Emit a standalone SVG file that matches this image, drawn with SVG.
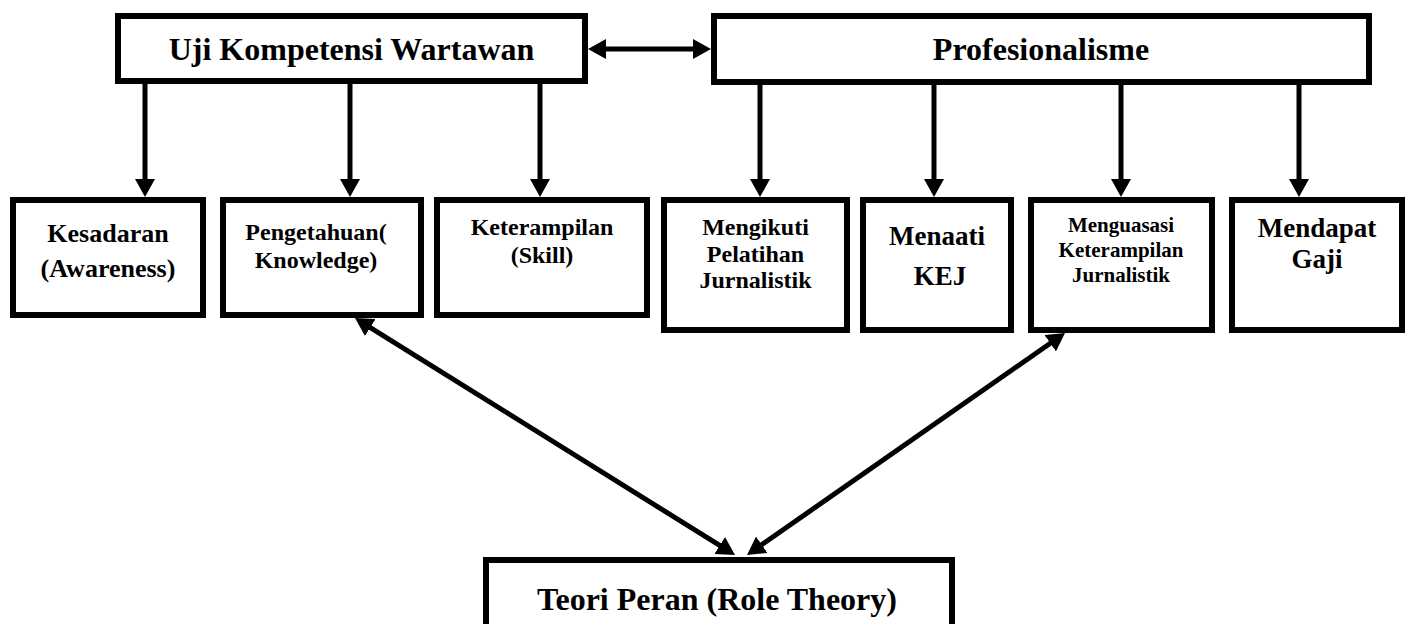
<svg xmlns="http://www.w3.org/2000/svg" width="1411" height="624" viewBox="0 0 1411 624">
<style>
.box{fill:#fff;stroke:#000;stroke-width:6}
.t{font-family:"Liberation Serif","Times New Roman",serif;font-weight:bold;fill:#000;text-anchor:middle}
.c{fill:none;stroke:#000;stroke-width:5}
</style>
<defs>
<marker id="ah" markerUnits="userSpaceOnUse" markerWidth="18" markerHeight="20" viewBox="0 0 18 20" refX="8" refY="10" orient="auto-start-reverse">
<path d="M0,0 L18,10 L0,20 z" fill="#000"/>
</marker>
</defs>
<rect width="1411" height="624" fill="#fff"/>
<g id="connectors">
<path class="c" d="M598,49 H701" marker-start="url(#ah)" marker-end="url(#ah)"/>
<path class="c" d="M145,84 V187" marker-end="url(#ah)"/>
<path class="c" d="M350,84 V187" marker-end="url(#ah)"/>
<path class="c" d="M540,84 V187" marker-end="url(#ah)"/>
<path class="c" d="M760,85 V187" marker-end="url(#ah)"/>
<path class="c" d="M934,85 V187" marker-end="url(#ah)"/>
<path class="c" d="M1121,85 V187" marker-end="url(#ah)"/>
<path class="c" d="M1299,85 V187" marker-end="url(#ah)"/>
<path class="c" d="M363.5,323.3 L726.5,549.7" marker-start="url(#ah)" marker-end="url(#ah)"/>
<path class="c" d="M755.2,549.3 L1056.8,338.7" marker-start="url(#ah)" marker-end="url(#ah)"/>
</g>
<g id="uji">
<rect class="box" x="118" y="16" width="467" height="65"/>
<text class="t" x="351.5" y="60" font-size="32">Uji Kompetensi Wartawan</text>
</g>
<g id="profesionalisme">
<rect class="box" x="714" y="16" width="655" height="66"/>
<text class="t" x="1041" y="60" font-size="32">Profesionalisme</text>
</g>
<g id="kesadaran">
<rect class="box" x="13" y="200" width="190" height="115"/>
<text class="t" x="108" y="242" font-size="26">Kesadaran</text>
<text class="t" x="108" y="277" font-size="26">(Awareness)</text>
</g>
<g id="pengetahuan">
<rect class="box" x="223" y="200" width="198" height="115"/>
<text class="t" x="316" y="240" font-size="24">Pengetahuan(</text>
<text class="t" x="316" y="268" font-size="24">Knowledge)</text>
</g>
<g id="keterampilan">
<rect class="box" x="437" y="200" width="210" height="115"/>
<text class="t" x="542" y="235" font-size="24">Keterampilan</text>
<text class="t" x="542" y="263" font-size="24">(Skill)</text>
</g>
<g id="mengikuti">
<rect class="box" x="664" y="200" width="183" height="130"/>
<text class="t" x="755.5" y="235" font-size="24">Mengikuti</text>
<text class="t" x="755.5" y="262" font-size="24">Pelatihan</text>
<text class="t" x="755.5" y="288" font-size="24">Jurnalistik</text>
</g>
<g id="menaati">
<rect class="box" x="863" y="200" width="148" height="130"/>
<text class="t" x="937" y="245" font-size="27">Menaati</text>
<text class="t" x="940" y="285" font-size="27">KEJ</text>
</g>
<g id="menguasasi">
<rect class="box" x="1031" y="200" width="181" height="130"/>
<text class="t" x="1121" y="232" font-size="21">Menguasasi</text>
<text class="t" x="1121" y="257" font-size="21">Keterampilan</text>
<text class="t" x="1121" y="282" font-size="21">Jurnalistik</text>
</g>
<g id="mendapat">
<rect class="box" x="1232" y="200" width="170" height="130"/>
<text class="t" x="1317" y="237" font-size="27">Mendapat</text>
<text class="t" x="1317" y="268" font-size="27">Gaji</text>
</g>
<g id="teori">
<rect class="box" x="486" y="560" width="466" height="100"/>
<text class="t" x="717" y="610" font-size="32">Teori Peran (Role Theory)</text>
</g>
</svg>
